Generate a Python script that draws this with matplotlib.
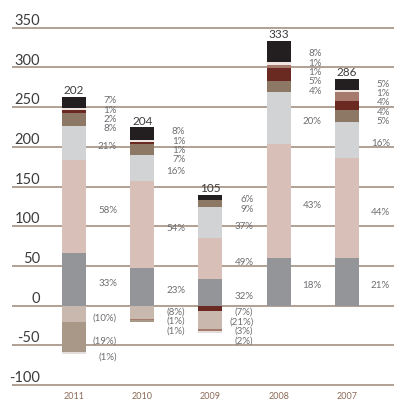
import matplotlib
matplotlib.use('Agg')
import matplotlib.pyplot as plt
import numpy as np

plt.rcParams['font.family'] = ['Lato', 'DejaVu Sans']

years = ['2011', '2010', '2009', '2008', '2007']
totals = [202, 204, 105, 333, 286]

# shares of the total, in %, stacked upward from zero
share_gray = [33, 23, 32, 18, 21]
share_pink = [58, 54, 49, 43, 44]
share_silver = [21, 16, 37, 20, 16]
share_brown = [8, 7, 9, 4, 5]
share_maroon = [2, 1, 0, 5, 4]
share_rose = [0, 0, 0, 1, 4]
share_cream = [1, 1, 0, 1, 1]
share_black = [7, 8, 6, 8, 5]

# negative shares, stacked downward from zero
neg_maroon = [0, 0, 7, 0, 0]
neg_taupe = [10, 8, 21, 0, 0]
neg_rose = [0, 1, 3, 0, 0]
neg_dark_taupe = [19, 1, 0, 0, 0]
neg_light = [1, 0, 2, 0, 0]

pos_series = [
    (share_gray, '#939598'),
    (share_pink, '#d8c0b8'),
    (share_silver, '#d1d3d4'),
    (share_brown, '#8d7866'),
    (share_maroon, '#6a2a22'),
    (share_rose, '#a67b6e'),
    (share_cream, '#efe6e1'),
    (share_black, '#231f20'),
]
neg_series = [
    (neg_maroon, '#6a2a22'),
    (neg_taupe, '#c9b8ae'),
    (neg_rose, '#a67b6e'),
    (neg_dark_taupe, '#a99888'),
    (neg_light, '#e3dedb'),
]

fig = plt.figure(figsize=(3.94, 4.02), dpi=100)
ax = fig.add_axes([0, 0, 1, 1])
ax.set_xlim(-1.084, 4.689)
ax.set_ylim(-120.2, 386.3)
ax.axis('off')

# horizontal grid with the value written above each line
for v in range(-100, 351, 50):
    ax.hlines(v, -0.908, 4.689, color='#ab9a8c', lw=1.3, zorder=1)
    ax.text(-0.498, v + 5, str(v), ha='right', va='baseline',
            fontsize=10.5, color='#3c3c3c')

x = np.arange(len(years))
w = 0.352
gap = 11.7

for i in range(len(years)):
    labels = []
    bottom = 0
    for vals, col in pos_series:
        pct = vals[i]
        if pct == 0:
            continue
        h = totals[i] * pct / 100
        ax.bar(x[i], h, w, bottom=bottom, color=col, lw=0, zorder=2)
        labels.append([bottom + h / 2 - 3.8, f'{pct}%'])
        bottom += h
    top = bottom

    bottom = 0
    for vals, col in neg_series:
        pct = vals[i]
        if pct == 0:
            continue
        h = totals[i] * pct / 100
        ax.bar(x[i], -h, w, bottom=bottom, color=col, lw=0, zorder=2)
        labels.append([bottom - h / 2 - 3.8, f'({pct}%)'])
        bottom -= h

    # push crowded labels apart so they don't overlap
    labels.sort(key=lambda l: -l[0])
    for _ in range(300):
        for j in range(len(labels) - 1):
            d = labels[j][0] - labels[j + 1][0]
            if d < gap:
                s = (gap - d) / 2
                labels[j][0] += s
                labels[j + 1][0] -= s
    for yv, t in labels:
        ax.text(x[i] + 0.63, yv, t, ha='right', va='center',
                fontsize=7, color='#6d6e71')

    ax.text(x[i], top + 2.5, str(totals[i]), ha='center', va='bottom',
            fontsize=8.5, color='#3c3c3c')
    ax.text(x[i], -113.7, years[i], ha='center', va='center',
            fontsize=6.5, color='#8b6a55')

fig.savefig('out.png', dpi=100)
